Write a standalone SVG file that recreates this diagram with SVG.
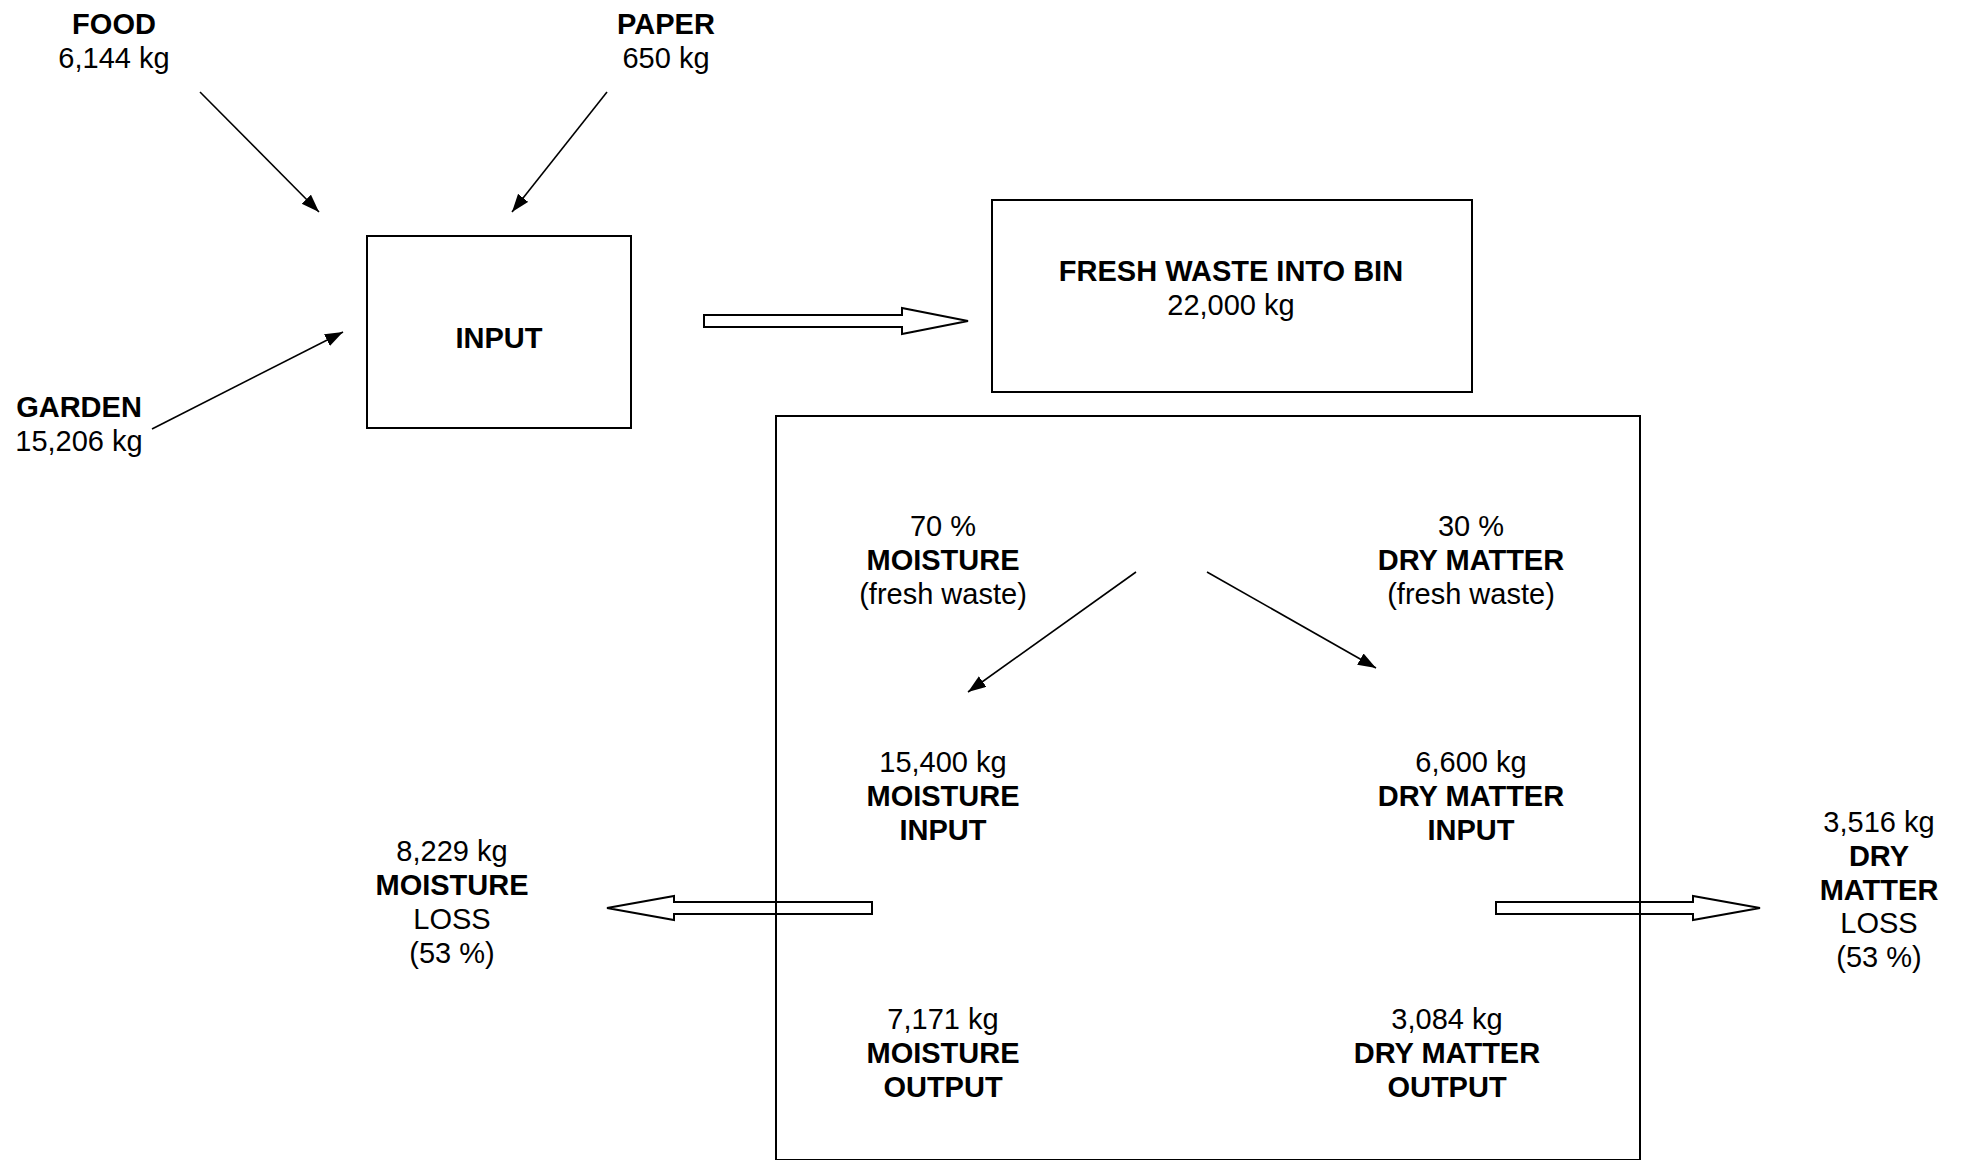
<svg xmlns="http://www.w3.org/2000/svg" width="1968" height="1160" viewBox="0 0 1968 1160">
<defs>
<style>
text{font-family:"Liberation Sans",Arial,sans-serif;font-size:29px;fill:#000;text-anchor:middle}
.b{font-weight:bold}
.box{fill:none;stroke:#000;stroke-width:2}
.thin{fill:none;stroke:#000;stroke-width:1.6}
.hollow{fill:none;stroke:#000;stroke-width:2;stroke-linejoin:miter}
</style>
<marker id="ah" markerUnits="userSpaceOnUse" markerWidth="20" markerHeight="14" refX="18" refY="6.5" orient="auto">
<path d="M0,0 L18,6.5 L0,13 z" fill="#000"/>
</marker>
</defs>
<rect width="1968" height="1160" fill="#fff"/>

<g id="connectors">
<line class="thin" x1="200" y1="92" x2="319" y2="212" marker-end="url(#ah)"/>
<line class="thin" x1="607" y1="92" x2="512" y2="212" marker-end="url(#ah)"/>
<line class="thin" x1="152" y1="429" x2="343" y2="332" marker-end="url(#ah)"/>
<polygon class="hollow" points="704,315 902,315 902,308 968,321 902,334 902,327 704,327"/>
<line class="thin" x1="1136" y1="572" x2="968" y2="692" marker-end="url(#ah)"/>
<line class="thin" x1="1207" y1="572" x2="1376" y2="668" marker-end="url(#ah)"/>
<polygon class="hollow" points="872,902 674,902 674,896 607,908 674,920 674,914 872,914"/>
<polygon class="hollow" points="1496,902 1693,902 1693,896 1760,908 1693,920 1693,914 1496,914"/>
</g>

<g id="food">
<text x="114" y="34" class="b">FOOD</text>
<text x="114" y="68">6,144 kg</text>
</g>
<g id="paper">
<text x="666" y="34" class="b">PAPER</text>
<text x="666" y="68">650 kg</text>
</g>
<g id="garden">
<text x="79" y="417" class="b">GARDEN</text>
<text x="79" y="451">15,206 kg</text>
</g>
<g id="input">
<rect class="box" x="367" y="236" width="264" height="192"/>
<text x="499" y="348" class="b">INPUT</text>
</g>
<g id="fresh">
<rect class="box" x="992" y="200" width="480" height="192"/>
<text x="1231" y="281" class="b">FRESH WASTE INTO BIN</text>
<text x="1231" y="315">22,000 kg</text>
</g>
<g id="bin">
<rect class="box" x="776" y="416" width="864" height="744"/>
</g>
<g id="moisture-fresh">
<text x="943" y="536">70 %</text>
<text x="943" y="570" class="b">MOISTURE</text>
<text x="943" y="604">(fresh waste)</text>
</g>
<g id="dry-fresh">
<text x="1471" y="536">30 %</text>
<text x="1471" y="570" class="b">DRY MATTER</text>
<text x="1471" y="604">(fresh waste)</text>
</g>
<g id="moisture-input">
<text x="943" y="772">15,400 kg</text>
<text x="943" y="806" class="b">MOISTURE</text>
<text x="943" y="840" class="b">INPUT</text>
</g>
<g id="dry-input">
<text x="1471" y="772">6,600 kg</text>
<text x="1471" y="806" class="b">DRY MATTER</text>
<text x="1471" y="840" class="b">INPUT</text>
</g>
<g id="moisture-output">
<text x="943" y="1029">7,171 kg</text>
<text x="943" y="1063" class="b">MOISTURE</text>
<text x="943" y="1097" class="b">OUTPUT</text>
</g>
<g id="dry-output">
<text x="1447" y="1029">3,084 kg</text>
<text x="1447" y="1063" class="b">DRY MATTER</text>
<text x="1447" y="1097" class="b">OUTPUT</text>
</g>
<g id="moisture-loss">
<text x="452" y="861">8,229 kg</text>
<text x="452" y="895" class="b">MOISTURE</text>
<text x="452" y="929">LOSS</text>
<text x="452" y="963">(53 %)</text>
</g>
<g id="dry-loss">
<text x="1879" y="832">3,516 kg</text>
<text x="1879" y="866" class="b">DRY</text>
<text x="1879" y="900" class="b">MATTER</text>
<text x="1879" y="933">LOSS</text>
<text x="1879" y="967">(53 %)</text>
</g>
</svg>
